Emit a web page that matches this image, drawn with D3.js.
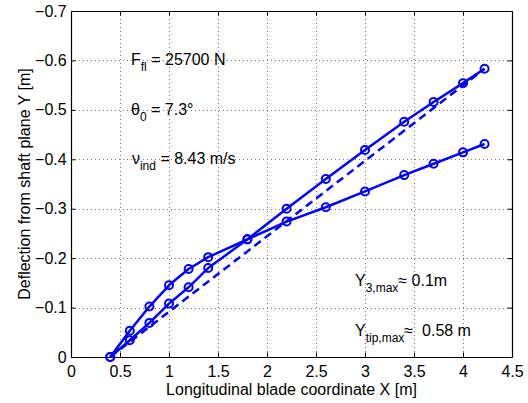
<!DOCTYPE html>
<html>
<head>
<meta charset="utf-8">
<script src="https://cdn.jsdelivr.net/npm/d3@7"></script>
<style>
  html, body { margin: 0; padding: 0; background: #fff; }
  svg { display: block; font-family: "Liberation Sans", Arial, Helvetica, sans-serif; }
  text { white-space: pre; }
</style>
</head>
<body>
<svg id="chart" width="528" height="403"></svg>
<script>
// Blade stations along the longitudinal coordinate X [m]
const stationX = [0.4, 0.6, 0.8, 1.0, 1.2, 1.4, 1.8, 2.2, 2.6, 3.0, 3.4, 3.7, 4.0, 4.22];

// Deflection from shaft plane Y [m] for the two computed blade shapes
const deflectionTipMax = [0, -0.034, -0.069, -0.108, -0.141, -0.180, -0.238, -0.300, -0.360, -0.419, -0.476, -0.516, -0.554, -0.583];
const deflectionInner  = [0, -0.053, -0.102, -0.145, -0.178, -0.202, -0.238, -0.274, -0.303, -0.335, -0.368, -0.391, -0.414, -0.431];

// Straight reference line from root to tip
const rigidX = [0.4, 4.22];
const rigidY = [0, -0.583];

// Axis ticks
const xTicks = [0, 0.5, 1, 1.5, 2, 2.5, 3, 3.5, 4, 4.5];
const yTicks = [0, -0.1, -0.2, -0.3, -0.4, -0.5, -0.6, -0.7];

const W = 528, H = 403;
const margin = { left: 71, top: 11, right: 16, bottom: 46 };
const blue = "#0000ff";
const FS = 16;

const svg = d3.select("#chart");
svg.append("rect").attr("width", W).attr("height", H).attr("fill", "#fff");

const x = d3.scaleLinear().domain([0, 4.5]).range([margin.left, W - margin.right]);
const y = d3.scaleLinear().domain([0, -0.7]).range([H - margin.bottom, margin.top]);

const fmt = d3.format("~g");

// Dotted grid
const grid = svg.append("g")
  .attr("stroke", "#555")
  .attr("stroke-width", 0.8)
  .attr("stroke-dasharray", "1,3");
grid.selectAll("line.vx").data(xTicks.filter(d => d > 0 && d < 4.5)).join("line")
  .attr("x1", d => Math.round(x(d)) + 0.5).attr("x2", d => Math.round(x(d)) + 0.5)
  .attr("y1", y(-0.7)).attr("y2", y(0));
grid.selectAll("line.hy").data(yTicks.filter(d => d < 0 && d > -0.7)).join("line")
  .attr("y1", d => Math.round(y(d)) + 0.5).attr("y2", d => Math.round(y(d)) + 0.5)
  .attr("x1", x(0)).attr("x2", x(4.5));

// Axes with inward ticks on all four sides
const tick = 4.5;
function styleAxis(g) {
  g.selectAll("path.domain").attr("stroke", "#000").attr("stroke-width", 1.2);
  g.selectAll(".tick line").attr("stroke", "#000").attr("stroke-width", 1);
  g.selectAll("text").attr("fill", "#000").attr("font-size", FS)
    .attr("font-family", "'Liberation Sans', Arial, sans-serif");
}
svg.append("g").attr("transform", `translate(0,${y(0)})`)
  .call(d3.axisBottom(x).tickValues(xTicks).tickFormat(fmt).tickSizeInner(-tick).tickSizeOuter(0).tickPadding(8.6))
  .call(styleAxis);
svg.append("g").attr("transform", `translate(0,${y(-0.7)})`)
  .call(d3.axisTop(x).tickValues(xTicks).tickFormat("").tickSizeInner(-tick).tickSizeOuter(0))
  .call(styleAxis);
svg.append("g").attr("transform", `translate(${x(0)},0)`)
  .call(d3.axisLeft(y).tickValues(yTicks).tickFormat(fmt).tickSizeInner(-tick).tickSizeOuter(0).tickPadding(4.3))
  .call(styleAxis);
svg.append("g").attr("transform", `translate(${x(4.5)},0)`)
  .call(d3.axisRight(y).tickValues(yTicks).tickFormat("").tickSizeInner(-tick).tickSizeOuter(0))
  .call(styleAxis);

// Axis titles
svg.append("text")
  .attr("x", (x(0) + x(4.5)) / 2).attr("y", 395)
  .attr("text-anchor", "middle").attr("font-size", FS)
  .text("Longitudinal blade coordinate X [m]");
svg.append("text")
  .attr("transform", `translate(30,${(y(0) + y(-0.7)) / 2}) rotate(-90)`)
  .attr("text-anchor", "middle").attr("font-size", FS)
  .text("Deflection from shaft plane Y [m]");

// Curves
const line = d3.line().x(d => x(d[0])).y(d => y(d[1]));

svg.append("path")
  .datum(rigidX.map((v, i) => [v, rigidY[i]]))
  .attr("d", line)
  .attr("fill", "none").attr("stroke", blue).attr("stroke-width", 2.5)
  .attr("stroke-dasharray", "8,5");

[deflectionInner, deflectionTipMax].forEach(series => {
  const pts = stationX.map((v, i) => [v, series[i]]);
  svg.append("path").datum(pts).attr("d", line)
    .attr("fill", "none").attr("stroke", blue).attr("stroke-width", 2.5)
    .attr("stroke-linejoin", "round");
  svg.append("g").selectAll("circle").data(pts).join("circle")
    .attr("cx", d => x(d[0])).attr("cy", d => y(d[1])).attr("r", 4)
    .attr("fill", "none").attr("stroke", blue).attr("stroke-width", 2);
});

// Annotations: main symbol, subscript, remainder
function label(px, py, main, sub, rest) {
  const t = svg.append("text").attr("x", px).attr("y", py).attr("font-size", FS).attr("fill", "#000");
  t.append("tspan").text(main);
  t.append("tspan").attr("font-size", 12).attr("dy", 6).text(sub);
  t.append("tspan").attr("font-size", FS).attr("dy", -6).text(rest);
}
label(x(0.612), y(-0.6) + 5, "F", "fl", " = 25700 N");
label(x(0.612), y(-0.5) + 5, "θ", "0", " = 7.3°");
label(x(0.622), y(-0.4) + 5, "ν", "ind", " = 8.43 m/s");
label(x(2.898), y(-0.1427), "Y", "3,max", "≈ 0.1m");
label(x(2.898), y(-0.0425), "Y", "tip,max", "≈  0.58 m");
</script>
</body>
</html>
